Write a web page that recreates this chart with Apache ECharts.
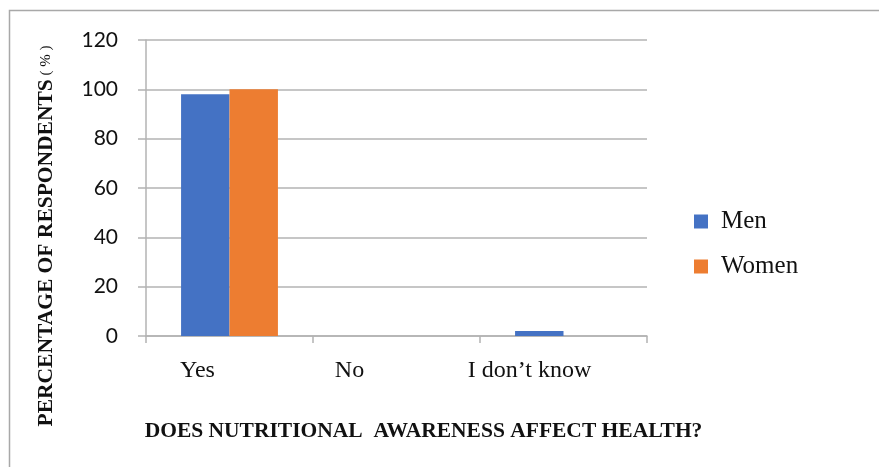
<!DOCTYPE html>
<html>
<head>
<meta charset="utf-8">
<script src="https://cdn.jsdelivr.net/npm/echarts@6/dist/echarts.min.js"></script>
<style>
  html, body { margin: 0; padding: 0; background: #ffffff; }
  #chart { width: 879px; height: 467px; }
</style>
</head>
<body>
<div id="chart"></div>
<script>
// Survey answers and the share of respondents (%) per group
const categories = ['Yes', 'No', 'I don\u2019t know'];
const menValues = [98, 0, 2];
const womenValues = [100, 0, 0];
const yTicks = [0, 20, 40, 60, 80, 100, 120];

// Per-label nudge (px) pulling each category label left of its slot centre
const labelShift = [32, 47, 34];

const serif = '"Liberation Serif", "Times New Roman", serif';
const gridColor = '#b3b3b3';

const chart = echarts.init(document.getElementById('chart'), null, { renderer: 'canvas' });

const richLabels = {};
categories.forEach((c, i) => {
  richLabels['c' + i] = {
    fontFamily: serif, fontSize: 24, color: '#111111',
    padding: [0, labelShift[i] * 2, 0, 0]
  };
});

chart.setOption({
  animation: false,
  backgroundColor: '#ffffff',
  graphic: [{
    type: 'rect',
    shape: { x: 9.5, y: 10.5, width: 900, height: 500 },
    style: { fill: 'none', stroke: '#a8a8a8', lineWidth: 1.5 },
    silent: true
  }],
  grid: { left: 146, right: 232, top: 40, bottom: 131, containLabel: false },
  legend: {
    data: ['Men', 'Women'],
    orient: 'vertical',
    left: 689,
    top: 204,
    icon: 'rect',
    itemWidth: 14,
    itemHeight: 14,
    itemGap: 20,
    textStyle: {
      fontFamily: serif, fontSize: 25, color: '#111111',
      padding: [0, 0, 0, 8]
    }
  },
  xAxis: {
    type: 'category',
    data: categories,
    name: 'DOES NUTRITIONAL  AWARENESS AFFECT HEALTH?',
    nameLocation: 'middle',
    nameGap: 84,
    nameTextStyle: {
      fontFamily: serif, fontSize: 21.5, fontWeight: 'bold', color: '#111111',
      padding: [0, 0, 0, 54]
    },
    axisLine: { lineStyle: { color: gridColor, width: 1.5 } },
    axisTick: { show: true, length: 7, alignWithLabel: false, lineStyle: { color: gridColor, width: 1.5 } },
    axisLabel: {
      margin: 23,
      formatter: (v) => '{c' + categories.indexOf(v) + '|' + v + '}',
      rich: richLabels
    }
  },
  yAxis: {
    type: 'value',
    min: yTicks[0],
    max: yTicks[yTicks.length - 1],
    interval: yTicks[1] - yTicks[0],
    name: '{b|PERCENTAGE OF RESPONDENTS}{r| ( % )}',
    nameLocation: 'middle',
    nameRotate: 90,
    nameGap: 89,
    nameTextStyle: {
      padding: [0, 96, 0, 0],
      rich: {
        b: { fontFamily: serif, fontSize: 21.5, fontWeight: 'bold', color: '#111111' },
        r: { fontFamily: serif, fontSize: 15, color: '#111111' }
      }
    },
    axisLine: { show: true, lineStyle: { color: gridColor, width: 1.5 } },
    axisTick: { show: true, length: 8, lineStyle: { color: gridColor, width: 1.5 } },
    axisLabel: {
      margin: 28,
      fontFamily: 'Lato, "Open Sans", sans-serif',
      fontSize: 21,
      color: '#111111'
    },
    splitLine: { show: true, lineStyle: { color: gridColor, width: 1.5 } }
  },
  series: [
    {
      name: 'Men', type: 'bar', data: menValues,
      itemStyle: { color: '#4472c4' },
      barGap: '0%', barCategoryGap: '42%'
    },
    {
      name: 'Women', type: 'bar', data: womenValues,
      itemStyle: { color: '#ed7d31' },
      barGap: '0%', barCategoryGap: '42%'
    }
  ]
});
</script>
</body>
</html>
